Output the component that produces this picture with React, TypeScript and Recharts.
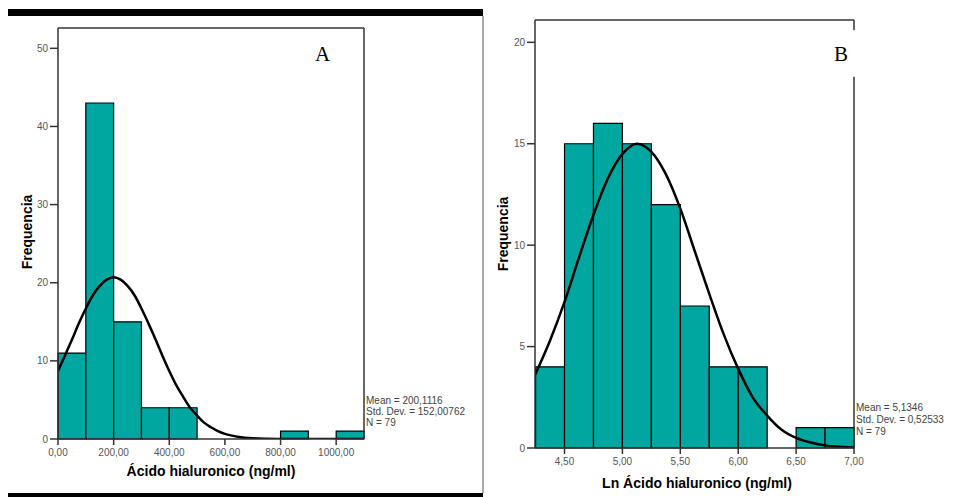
import { ComposedChart, Line, XAxis, YAxis, ReferenceArea, ReferenceLine } from "recharts";

/** Panel A: raw hyaluronic acid, bins of 100 ng/ml. */
const BIN_START_A = [0, 100, 200, 300, 400, 800, 1000];
const BIN_COUNT_A = [11, 43, 15, 4, 4, 1, 1];
const BIN_WIDTH_A = 100;
const X_TICKS_A = [0, 200, 400, 600, 800, 1000];
const Y_TICKS_A = [0, 10, 20, 30, 40, 50];
const CURVE_X_A = [0, 25, 50, 75, 100, 125, 150, 175, 200, 225, 250, 275, 300, 325, 350, 375, 400, 425, 450, 475, 500, 525, 550, 575, 600, 650, 700, 750, 800, 900, 1000, 1100];
const CURVE_Y_A = [8.7, 10.7, 12.7, 14.8, 16.7, 18.4, 19.6, 20.4, 20.7, 20.4, 19.6, 18.4, 16.7, 14.8, 12.8, 10.7, 8.7, 6.9, 5.4, 4.0, 3.0, 2.1, 1.5, 1.0, 0.65, 0.26, 0.09, 0.03, 0.01, 0, 0, 0];
const STATS_A = ["Mean = 200,1116", "Std. Dev. = 152,00762", "N = 79"];

/** Panel B: log-transformed values, bins of 0.25. */
const BIN_START_B = [4.25, 4.5, 4.75, 5.0, 5.25, 5.5, 5.75, 6.0, 6.5, 6.75];
const BIN_COUNT_B = [4, 15, 16, 15, 12, 7, 4, 4, 1, 1];
const BIN_WIDTH_B = 0.25;
const X_TICKS_B = [4.5, 5.0, 5.5, 6.0, 6.5, 7.0];
const Y_TICKS_B = [0, 5, 10, 15, 20];
const CURVE_X_B = [4.245, 4.375, 4.5, 4.625, 4.75, 4.875, 5.0, 5.125, 5.25, 5.375, 5.5, 5.625, 5.75, 5.875, 6.0, 6.125, 6.25, 6.375, 6.5, 6.625, 6.75, 6.875, 7.0];
const CURVE_Y_B = [3.6, 5.3, 7.2, 9.4, 11.5, 13.3, 14.5, 15.0, 14.6, 13.5, 11.8, 9.7, 7.6, 5.6, 3.9, 2.5, 1.6, 0.9, 0.5, 0.27, 0.13, 0.06, 0.03];
const STATS_B = ["Mean = 5,1346", "Std. Dev. = 0,52533", "N = 79"];

const BAR_FILL = "#00a6a0";
const FRAME = "#333333";
const TICK_TEXT = "#555555";
const SANS = "Arial, 'Liberation Sans', sans-serif";

const fmt = (v: number) => v.toFixed(2).replace(".", ",");

const tickStyle = { fill: TICK_TEXT, fontSize: 10, fontFamily: SANS };

function abs(left: number, top: number, extra: React.CSSProperties = {}): React.CSSProperties {
  return { position: "absolute", left, top, ...extra };
}

export default function App() {
  const curveA = CURVE_X_A.map((x, i) => ({ x, y: CURVE_Y_A[i] }));
  const curveB = CURVE_X_B.map((x, i) => ({ x, y: CURVE_Y_B[i] }));

  return (
    <div style={{ position: "absolute", left: 0, top: 0, width: 966, height: 497, background: "#fff", overflow: "hidden", fontFamily: SANS }}>
      {/* panel A borders */}
      <div style={abs(8, 9, { width: 475, height: 7, background: "#000" })} />
      <div style={abs(8, 493, { width: 475, height: 4, background: "#000" })} />
      <div style={abs(482, 16, { width: 1.5, height: 477, background: "#aaa" })} />

      <div style={abs(0, 0)}>
        <ComposedChart width={483} height={497} data={curveA} margin={{ top: 28, right: 119, bottom: 28, left: 8 }}>
          <XAxis
            dataKey="x"
            type="number"
            domain={[0, 1100]}
            ticks={X_TICKS_A}
            tickFormatter={fmt}
            height={30}
            tick={tickStyle}
            tickSize={6}
            tickMargin={4}
            stroke={FRAME}
            strokeWidth={1.5}
            allowDataOverflow
          />
          <YAxis
            type="number"
            domain={[0, 52.6]}
            ticks={Y_TICKS_A}
            width={50}
            tick={tickStyle}
            tickSize={8}
            tickMargin={2}
            stroke={FRAME}
            strokeWidth={1.5}
            allowDataOverflow
          />
          {BIN_START_A.map((s, i) => (
            <ReferenceArea key={s} x1={s} x2={s + BIN_WIDTH_A} y1={0} y2={BIN_COUNT_A[i]} fill={BAR_FILL} fillOpacity={1} stroke="#000" strokeWidth={1.2} />
          ))}
          <ReferenceLine y={52.6} stroke={FRAME} strokeWidth={1.5} />
          <ReferenceLine x={1100} stroke={FRAME} strokeWidth={1.5} />
          <Line dataKey="y" type="monotone" stroke="#000" strokeWidth={2.5} dot={false} isAnimationActive={false} />
        </ComposedChart>
      </div>

      <div style={abs(483, 0)}>
        <ComposedChart width={483} height={497} data={curveB} margin={{ top: 20, right: 112, bottom: 19, left: 8 }}>
          <XAxis
            dataKey="x"
            type="number"
            domain={[4.245, 7.0]}
            ticks={X_TICKS_B}
            tickFormatter={fmt}
            height={30}
            tick={tickStyle}
            tickSize={6}
            tickMargin={4}
            stroke={FRAME}
            strokeWidth={1.5}
            allowDataOverflow
          />
          <YAxis
            type="number"
            domain={[0, 21.1]}
            ticks={Y_TICKS_B}
            width={44}
            tick={tickStyle}
            tickSize={8}
            tickMargin={2}
            stroke={FRAME}
            strokeWidth={1.5}
            allowDataOverflow
          />
          {BIN_START_B.map((s, i) => (
            <ReferenceArea key={s} x1={s} x2={s + BIN_WIDTH_B} y1={0} y2={BIN_COUNT_B[i]} fill={BAR_FILL} fillOpacity={1} stroke="#000" strokeWidth={1.2} />
          ))}
          <ReferenceLine y={21.1} stroke={FRAME} strokeWidth={1.5} />
          <ReferenceLine segment={[{ x: 7.0, y: 0 }, { x: 7.0, y: 18.3 }]} stroke={FRAME} strokeWidth={1.5} />
          <ReferenceLine segment={[{ x: 7.0, y: 20.6 }, { x: 7.0, y: 21.1 }]} stroke={FRAME} strokeWidth={1.5} />
          <Line dataKey="y" type="monotone" stroke="#000" strokeWidth={2.5} dot={false} isAnimationActive={false} />
        </ComposedChart>
      </div>

      {/* panel letters */}
      <div style={abs(315, 42, { fontFamily: "'Liberation Serif', 'DejaVu Serif', serif", fontSize: 21 })}>A</div>
      <div style={abs(834, 42, { fontFamily: "'Liberation Serif', 'DejaVu Serif', serif", fontSize: 21 })}>B</div>

      {/* axis titles */}
      <div style={abs(211, 471, { transform: "translate(-50%, -50%)", fontSize: 14, fontWeight: "bold", whiteSpace: "nowrap" })}>Ácido hialuronico (ng/ml)</div>
      <div style={abs(697, 483, { transform: "translate(-50%, -50%)", fontSize: 14, fontWeight: "bold", whiteSpace: "nowrap" })}>Ln Ácido hialuronico (ng/ml)</div>
      <div style={abs(27, 232, { transform: "translate(-50%, -50%) rotate(-90deg)", fontSize: 14, fontWeight: "bold", whiteSpace: "nowrap" })}>Frequencia</div>
      <div style={abs(503, 234, { transform: "translate(-50%, -50%) rotate(-90deg)", fontSize: 14, fontWeight: "bold", whiteSpace: "nowrap" })}>Frequencia</div>

      {/* summary statistics */}
      <div style={abs(366, 395, { fontSize: 10, lineHeight: "11px", color: "#444", whiteSpace: "nowrap" })}>
        {STATS_A.map((t) => (
          <div key={t}>{t}</div>
        ))}
      </div>
      <div style={abs(856, 402, { fontSize: 10, lineHeight: "12px", color: "#444", whiteSpace: "nowrap" })}>
        {STATS_B.map((t) => (
          <div key={t}>{t}</div>
        ))}
      </div>
    </div>
  );
}
